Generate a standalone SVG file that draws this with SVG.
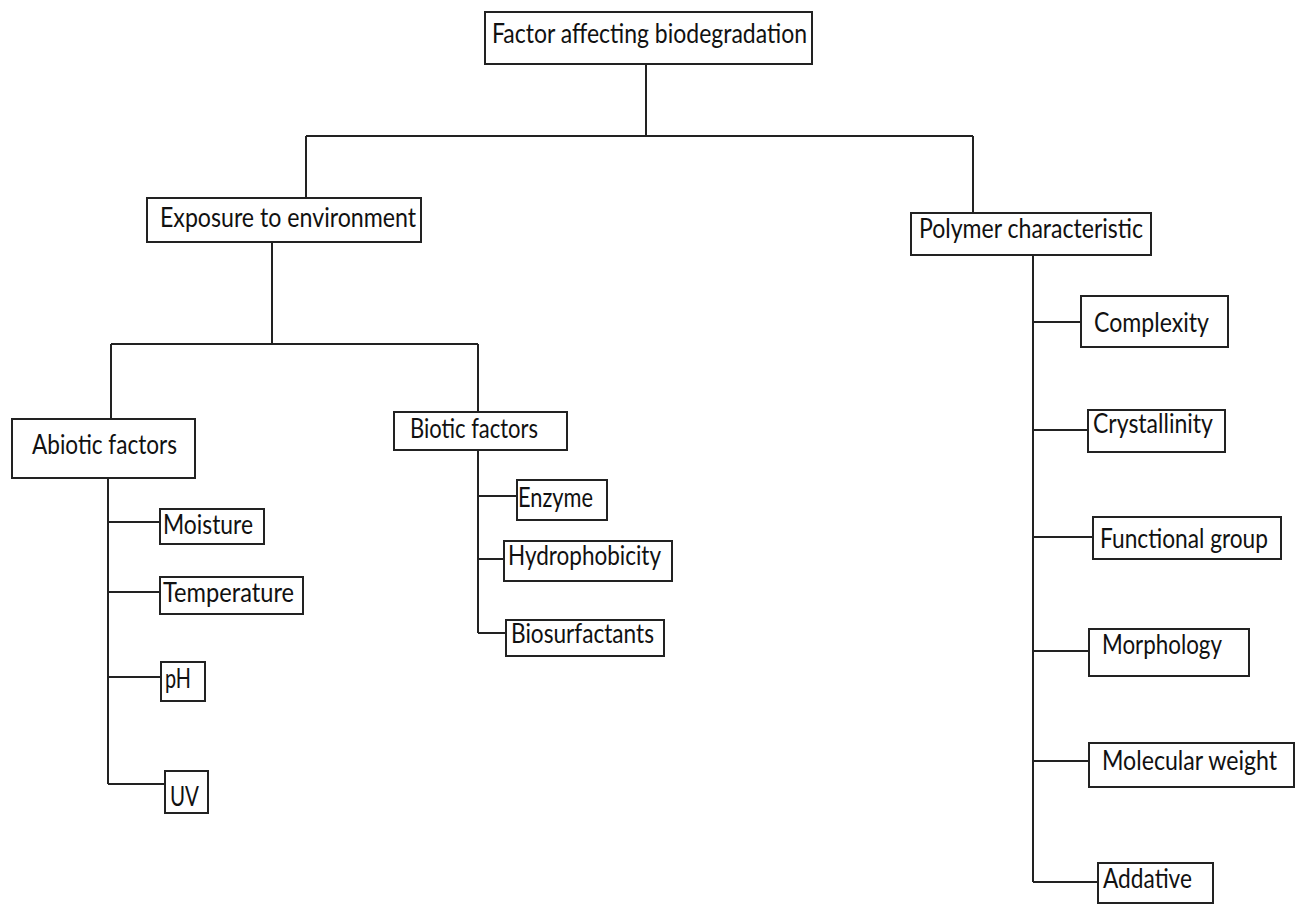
<svg xmlns="http://www.w3.org/2000/svg" width="1304" height="905" viewBox="0 0 1304 905">
<style>
.box{fill:#fff;stroke:#222;stroke-width:2}
.ln{fill:none;stroke:#222;stroke-width:2}
text{font-family:Lato,"Open Sans","Liberation Sans",sans-serif;font-size:26px;fill:#111}
</style>
<rect width="1304" height="905" fill="#fff"/>
<g id="connectors">
<path class="ln" d="M646,64V136M306,136H973M306,136V198M973,136V213"/>
<path class="ln" d="M272,242V344M111,344H478M111,344V419M478,344V412"/>
<path class="ln" d="M108,478V784M108,522H160M108,592H160M108,677H161M108,784H165"/>
<path class="ln" d="M478,450V633M478,496H517M478,559H504M478,633H506"/>
<path class="ln" d="M1033,255V882M1033,322H1081M1033,430H1088M1033,537H1093M1033,651H1089M1033,761H1089M1033,882H1098"/>
</g>
<g id="n-root"><rect class="box" x="485" y="12" width="327" height="52"/><text x="492" y="43" textLength="315" lengthAdjust="spacingAndGlyphs">Factor affecting biodegradation</text></g>
<g id="n-exposure"><rect class="box" x="147" y="198" width="274" height="44"/><text x="160" y="227" textLength="256" lengthAdjust="spacingAndGlyphs">Exposure to environment</text></g>
<g id="n-polymer"><rect class="box" x="911" y="213" width="240" height="42"/><text x="919" y="238" textLength="224" lengthAdjust="spacingAndGlyphs">Polymer characteristic</text></g>
<g id="n-abiotic"><rect class="box" x="12" y="419" width="183" height="59"/><text x="32" y="454" textLength="145" lengthAdjust="spacingAndGlyphs">Abiotic factors</text></g>
<g id="n-biotic"><rect class="box" x="394" y="412" width="173" height="38"/><text x="410" y="438" textLength="128" lengthAdjust="spacingAndGlyphs">Biotic factors</text></g>
<g id="n-moisture"><rect class="box" x="160" y="509" width="104" height="35"/><text x="163" y="534" textLength="90" lengthAdjust="spacingAndGlyphs">Moisture</text></g>
<g id="n-temperature"><rect class="box" x="160" y="577" width="143" height="37"/><text x="163" y="602" textLength="131" lengthAdjust="spacingAndGlyphs">Temperature</text></g>
<g id="n-ph"><rect class="box" x="161" y="662" width="44" height="39"/><text x="165" y="688" textLength="26" lengthAdjust="spacingAndGlyphs">pH</text></g>
<g id="n-uv"><rect class="box" x="165" y="771" width="43" height="42"/><text x="170" y="806" textLength="29" lengthAdjust="spacingAndGlyphs">UV</text></g>
<g id="n-enzyme"><rect class="box" x="517" y="480" width="90" height="40"/><text x="518" y="507" textLength="75" lengthAdjust="spacingAndGlyphs">Enzyme</text></g>
<g id="n-hydro"><rect class="box" x="504" y="541" width="168" height="40"/><text x="508" y="565" textLength="153" lengthAdjust="spacingAndGlyphs">Hydrophobicity</text></g>
<g id="n-biosurf"><rect class="box" x="506" y="620" width="158" height="36"/><text x="511" y="643" textLength="143" lengthAdjust="spacingAndGlyphs">Biosurfactants</text></g>
<g id="n-complexity"><rect class="box" x="1081" y="296" width="147" height="51"/><text x="1094" y="332" textLength="115" lengthAdjust="spacingAndGlyphs">Complexity</text></g>
<g id="n-crystal"><rect class="box" x="1088" y="410" width="137" height="42"/><text x="1093" y="433" textLength="120" lengthAdjust="spacingAndGlyphs">Crystallinity</text></g>
<g id="n-functional"><rect class="box" x="1093" y="517" width="188" height="42"/><text x="1100" y="548" textLength="168" lengthAdjust="spacingAndGlyphs">Functional group</text></g>
<g id="n-morphology"><rect class="box" x="1089" y="629" width="160" height="47"/><text x="1102" y="654" textLength="120" lengthAdjust="spacingAndGlyphs">Morphology</text></g>
<g id="n-molecular"><rect class="box" x="1089" y="743" width="205" height="44"/><text x="1102" y="770" textLength="175" lengthAdjust="spacingAndGlyphs">Molecular weight</text></g>
<g id="n-addative"><rect class="box" x="1098" y="863" width="115" height="40"/><text x="1103" y="888" textLength="89" lengthAdjust="spacingAndGlyphs">Addative</text></g>
</svg>
